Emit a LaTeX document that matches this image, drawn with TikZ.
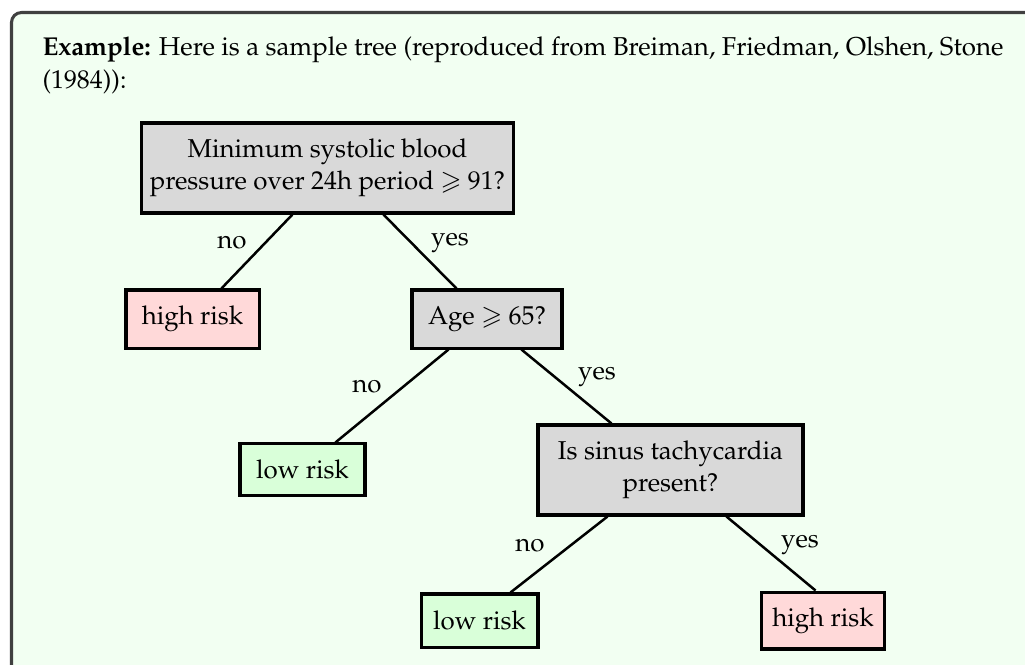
\documentclass[tikz,border=0pt]{standalone}
\usepackage{amssymb}
\usepackage[T1]{fontenc}
\usepackage{mathpazo}
\usetikzlibrary{calc}
\definecolor{bgfill}{RGB}{242,255,242}
\definecolor{framecol}{RGB}{64,64,64}
\definecolor{qfill}{RGB}{217,217,217}
\definecolor{hifill}{RGB}{255,217,217}
\definecolor{lofill}{RGB}{217,255,217}
\tikzset{
  x=0.36pt, y=-0.36pt,
  every node/.style={font=\fontsize{9.3pt}{11.7pt}\selectfont, inner sep=0pt},
  framebox/.style={draw=framecol, fill=bgfill, line width=1.1pt, rounded corners=3.6pt},
  treebox/.style={draw=black, line width=1.1pt, align=center},
  question/.style={treebox, fill=qfill},
  highrisk/.style={treebox, fill=hifill},
  lowrisk/.style={treebox, fill=lofill},
  edge/.style={draw=black, line width=0.9pt},
  lbl/.style={anchor=center},
  heading/.style={anchor=base west}
}
\begin{document}
\begin{tikzpicture}
\useasboundingbox (0,0) rectangle (1025,664);
\begin{scope}
\clip (0,0) rectangle (1025,664);
\draw[framebox] (11.5,12.5) rectangle (1060,700);
\end{scope}

\node[heading] (title1) at (42,55)
  {\textbf{Example:} Here is a sample tree (reproduced from Breiman, Friedman, Olshen, Stone};
\node[heading] (title2) at (42,88) {(1984)):};

\node[question, minimum width=133.6pt, minimum height=32.4pt] (root) at (327.5,168)
  {Minimum systolic blood\\pressure over 24h period $\geqslant$ 91?};
\node[highrisk, minimum width=47.9pt, minimum height=20.9pt] (hr1) at (192.5,319) {high risk};
\node[question, minimum width=54pt, minimum height=20.9pt] (age) at (487,319) {Age $\geqslant$ 65?};
\node[lowrisk, minimum width=45pt, minimum height=18.4pt] (lr1) at (302.5,469.5) {low risk};
\node[question, minimum width=95.4pt, minimum height=32.4pt] (sinus) at (670.5,470)
  {Is sinus tachycardia\\present?};
\node[lowrisk, minimum width=42.1pt, minimum height=19.1pt] (lr2) at (479.5,620.5) {low risk};
\node[highrisk, minimum width=44.6pt, minimum height=20.5pt] (hr2) at (823,620.5) {high risk};

\draw[edge] ($(root.south west)+(152,0)$) -- ($(hr1.north west)+(97,0)$);
\draw[edge] ($(root.south west)+(243,0)$) -- ($(age.north west)+(46,0)$);
\draw[edge] ($(age.south west)+(38,0)$) -- ($(lr1.north west)+(97,0)$);
\draw[edge] ($(age.south west)+(111,0)$) -- ($(sinus.north west)+(75,0)$);
\draw[edge] ($(sinus.south west)+(71,0)$) -- ($(lr2.north west)+(91,0)$);
\draw[edge] ($(sinus.south west)+(190,0)$) -- ($(hr2.north west)+(56,0)$);

\node[lbl] (l1) at (232,243) {no};
\node[lbl] (l2) at (450,243) {yes};
\node[lbl] (l3) at (367,387) {no};
\node[lbl] (l4) at (597,377) {yes};
\node[lbl] (l5) at (530,546) {no};
\node[lbl] (l6) at (800,545) {yes};
\end{tikzpicture}
\end{document}
